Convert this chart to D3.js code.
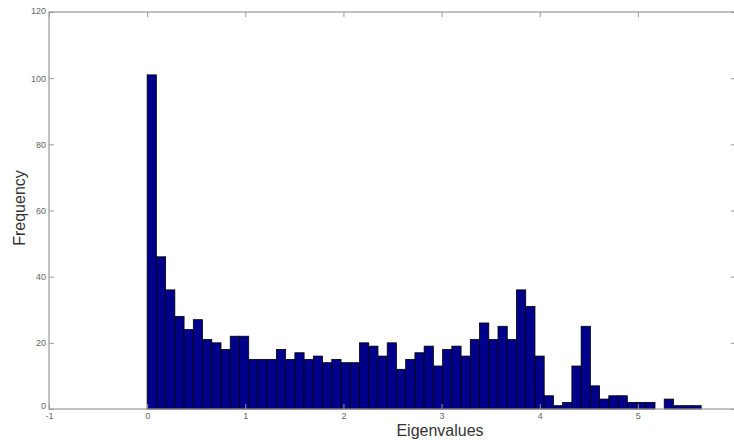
<!DOCTYPE html>
<html>
<head>
<meta charset="utf-8">
<script src="https://cdn.jsdelivr.net/npm/d3@7"></script>
<style>
  body { margin: 0; background: #fff; }
  svg { display: block; font-family: Arial, "Liberation Sans", sans-serif; }
</style>
</head>
<body>
<div id="chart"></div>
<script>
// histogram counts, 60 equal bins between binMin and binMax
const counts = [
  101, 46, 36, 28, 24, 27, 21, 20, 18, 22,
  22, 15, 15, 15, 18, 15, 17, 15, 16, 14,
  15, 14, 14, 20, 19, 16, 20, 12, 15, 17,
  19, 13, 18, 19, 16, 21, 26, 21, 25, 21,
  36, 31, 16, 4, 1, 2, 13, 25, 7, 3,
  4, 4, 2, 2, 2, 0, 3, 1, 1, 1
];
const binMin = 0;
const binMax = 5.645;
const xTicks = [-1, 0, 1, 2, 3, 4, 5, 6];
const yTicks = [0, 20, 40, 60, 80, 100, 120];

const W = 734, H = 440;
const m = { left: 49, top: 12, right: 736, bottom: 409 };

const svg = d3.select('#chart')
  .append('svg')
    .attr('width', W)
    .attr('height', H);

const x = d3.scaleLinear().domain([-1, 6]).range([m.left, m.right]);
const y = d3.scaleLinear().domain([0, 120]).range([m.bottom, m.top]);

// bins
const binW = (binMax - binMin) / counts.length;
const bins = counts.map((c, i) => ({ x0: binMin + i * binW, x1: binMin + (i + 1) * binW, c }));

svg.append('g')
  .selectAll('rect')
  .data(bins)
  .enter()
  .append('rect')
    .attr('x', d => x(d.x0))
    .attr('y', d => y(d.c))
    .attr('width', d => x(d.x1) - x(d.x0))
    .attr('height', d => y(0) - y(d.c))
    .attr('fill', '#00008b')
    .attr('stroke', '#000')
    .attr('stroke-width', 0.8);

// box + ticks (matlab style, ticks inside on all four sides)
const axisColor = '#999';
const tickLen = 5;

function styleAxis(g) {
  g.select('.domain').remove();
  g.selectAll('.tick line').attr('stroke', axisColor);
  g.selectAll('.tick text').attr('fill', '#666').style('font-size', '9px');
}

svg.append('g')
  .attr('transform', `translate(0,${m.bottom})`)
  .call(d3.axisBottom(x).tickValues(xTicks).tickSize(-tickLen).tickPadding(4).tickFormat(d => String(d)))
  .call(styleAxis);

svg.append('g')
  .attr('transform', `translate(0,${m.top})`)
  .call(d3.axisTop(x).tickValues(xTicks).tickSize(-tickLen).tickFormat(''))
  .call(styleAxis);

svg.append('g')
  .attr('transform', `translate(${m.left},0)`)
  .call(d3.axisLeft(y).tickValues(yTicks).tickSize(-tickLen).tickPadding(3))
  .call(styleAxis)
  .selectAll('.tick text')
    .attr('dy', d => d === 0 ? '-0.1em' : d === 120 ? '0.2em' : '0.32em');

svg.append('g')
  .attr('transform', `translate(${m.right},0)`)
  .call(d3.axisRight(y).tickValues(yTicks).tickSize(-tickLen).tickFormat(''))
  .call(styleAxis);

svg.append('rect')
  .attr('x', m.left)
  .attr('y', m.top)
  .attr('width', m.right - m.left)
  .attr('height', m.bottom - m.top)
  .attr('fill', 'none')
  .attr('stroke', axisColor)
  .attr('stroke-width', 1.2);

// axis titles
svg.append('text')
  .attr('x', 440)
  .attr('y', 436)
  .attr('text-anchor', 'middle')
  .attr('fill', '#333')
  .style('font-size', '16px')
  .text('Eigenvalues');

svg.append('text')
  .attr('transform', 'rotate(-90)')
  .attr('x', -208)
  .attr('y', 25)
  .attr('text-anchor', 'middle')
  .attr('fill', '#333')
  .style('font-size', '16px')
  .text('Frequency');
</script>
</body>
</html>
